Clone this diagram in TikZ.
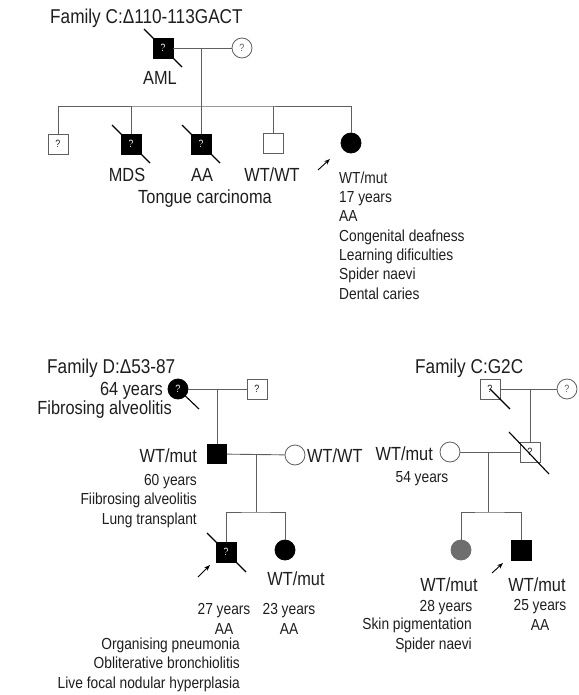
\documentclass[tikz,border=0pt]{standalone}
\usepackage{fontspec}
\setmainfont{Liberation Sans}[FakeStretch=0.86]
\usetikzlibrary{arrows.meta}
\definecolor{linegray}{HTML}{5F5F5F}
\definecolor{inkgray}{HTML}{1E1E1E}
\definecolor{midgray}{HTML}{6E6E6E}
\newcommand{\titlefont}{\fontsize{20}{24}\selectfont}
\newcommand{\labelfont}{\fontsize{19}{22}\selectfont}
\newcommand{\notefont}{\fontsize{16}{19.3}\selectfont}
\newcommand{\qfont}{\fontsize{10.5}{12}\selectfont}
\tikzset{
  male/.style={rectangle, draw=linegray, fill=white, line width=0.8pt, minimum size=20pt, inner sep=0pt, font=\qfont, text=inkgray},
  female/.style={circle, draw=linegray, fill=white, line width=0.8pt, minimum size=20pt, inner sep=0pt, font=\qfont, text=linegray},
  affected/.style={fill=black, draw=black, text=white},
  link/.style={draw=linegray, line width=0.9pt},
  slash/.style={draw=black, line width=1.1pt},
  proband/.style={-{Stealth[length=6pt,width=4.5pt]}, line width=0.9pt, black},
  lbl/.style={font=\labelfont, text=inkgray, inner sep=0pt},
  note/.style={font=\notefont, text=inkgray, inner sep=0pt},
  ttl/.style={font=\titlefont, text=inkgray, inner sep=0pt, anchor=base west}
}
\begin{document}
\begin{tikzpicture}[x=1pt, y=-1pt]
\useasboundingbox (0,0) rectangle (578,695);

% Family C: 110-113GACT
\begin{scope}
\node[ttl] (ctitle) at (50,24) {Family C:Δ110-113GACT};
\node[male, affected] (cf) at (163,48) {?};
\node[female] (cm) at (242,48) {?};
\coordinate (ctop) at (201,48);
\coordinate (csib) at (201,106);
\draw[link] (cf) -- (cm);
\draw[link] (ctop) -- (csib);

% sibship
\node[male] (c1) at (58,144) {?};
\node[male, affected] (c2) at (131,144) {?};
\node[male, affected] (c3) at (201,144) {?};
\node[male] (c4) at (273,143) {};
\node[female, affected] (c5) at (351,143) {};
\draw[link] (c1) |- (csib) -| (c5);
\foreach \c in {c2,c3,c4}
    \draw[link] (\c) -- (\c |- csib);
\foreach \c in {cf,c2,c3}
    \draw[slash] ([shift={(-19,-19)}]\c.center) -- ([shift={(19,19)}]\c.center);
\draw[proband] ([shift={(-33,27)}]c5.center) -- ([shift={(-21,16)}]c5.center);

\node[lbl, anchor=base] (caml) at (160,85) {AML};
\node[lbl, anchor=base] (cmds) at (127,182) {MDS};
\node[lbl, anchor=base] (caa) at (202,182) {AA};
\node[lbl, anchor=base] (cwt) at (272,182) {WT/WT};
\node[lbl, anchor=base] (ctongue) at (205,203) {Tongue carcinoma};
\node[note, anchor=base west, align=left] (cnote) at (339,299)
    {WT/mut\\17 years\\AA\\Congenital deafness\\Learning dificulties\\Spider naevi\\Dental caries};
\end{scope}

% Family D: 53-87
\begin{scope}
\node[ttl] (dtitle) at (47,373) {Family D:Δ53-87};
\node[female, affected] (dm) at (178,389) {?};
\node[male] (df) at (257,389) {?};
\coordinate (dtop) at (217,389);
\draw[link] (dm) -- (df);
\draw[slash] (dm.center) -- ([shift={(21,20)}]dm.center);

\node[male, affected, minimum size=19pt] (d2) at (217,454) {};
\node[female] (dw) at (295,455) {};
\coordinate (dmid) at (256,455);
\coordinate (dsib) at (256,512);
\draw[link] (dtop) -- (d2);
\draw[link] (d2) -- (dw);
\draw[link] (dmid) -- (dsib);

\node[male, affected] (d3) at (226,552) {?};
\node[female, affected] (d4) at (285,550) {};
\draw[link] (d3) |- (dsib) -| (d4);
\draw[slash] ([shift={(-19,-19)}]d3.center) -- ([shift={(20,20)}]d3.center);
\draw[proband] ([shift={(-28,25)}]d3.center) -- ([shift={(-16,13)}]d3.center);

\node[lbl, anchor=base east] (dage) at (163,395) {64 years};
\node[lbl, anchor=base east] (dfib) at (172,414) {Fibrosing alveolitis};
\node[lbl, anchor=base east] (dfwt) at (197,462) {WT/mut};
\node[note, anchor=base east, align=right] (dfnote) at (197,524)
    {60 years\\Fiibrosing alveolitis\\Lung transplant};
\node[lbl, anchor=base west] (dwwt) at (307,462) {WT/WT};
\node[lbl, anchor=base] (d4wt) at (296,585) {WT/mut};
\node[note, anchor=base, align=center] (d3note) at (224,634) {27 years\\AA};
\node[note, anchor=base, align=center] (d4note) at (289,634) {23 years\\AA};
\node[note, anchor=base east, align=right] (d3more) at (240,688)
    {Organising pneumonia\\Obliterative bronchiolitis\\Live focal nodular hyperplasia};
\end{scope}

% Family C: G2C
\begin{scope}
\node[ttl] (gtitle) at (415,373) {Family C:G2C};
\node[male] (gf) at (490,389) {?};
\node[female] (gm) at (567,389) {?};
\coordinate (gtop) at (530,389);
\draw[link] (gf) -- (gm);

\node[male] (g2) at (530,452) {?};
\node[female] (gw) at (450,452) {};
\coordinate (gmid) at (488,452);
\coordinate (gsib) at (488,512);
\draw[link] (gtop) -- (g2);
\draw[link] (gw) -- (g2);
\draw[link] (gmid) -- (gsib);
\draw[slash] (gf.center) -- ([shift={(20,20)}]gf.center);
\draw[slash] ([shift={(-21,-20)}]g2.center) -- ([shift={(19,22)}]g2.center);

\node[female, fill=midgray, draw=midgray] (g3) at (461,550) {};
\node[male, affected] (g4) at (521,550) {};
\draw[link] (g3) |- (gsib) -| (g4);
\draw[proband] ([shift={(-29,23)}]g4.center) -- ([shift={(-18,13)}]g4.center);

\node[lbl, anchor=base east] (gwwt) at (433,460) {WT/mut};
\node[note, anchor=base] (gwage) at (422,482) {54 years};
\node[lbl, anchor=base] (g3wt) at (449,591) {WT/mut};
\node[note, anchor=base] (g3age) at (446,611) {28 years};
\node[note, anchor=base east, align=right] (g3note) at (472,649) {Skin pigmentation\\Spider naevi};
\node[lbl, anchor=base] (g4wt) at (537,591) {WT/mut};
\node[note, anchor=base, align=center] (g4note) at (540,630) {25 years\\AA};
\end{scope}
\end{tikzpicture}
\end{document}
